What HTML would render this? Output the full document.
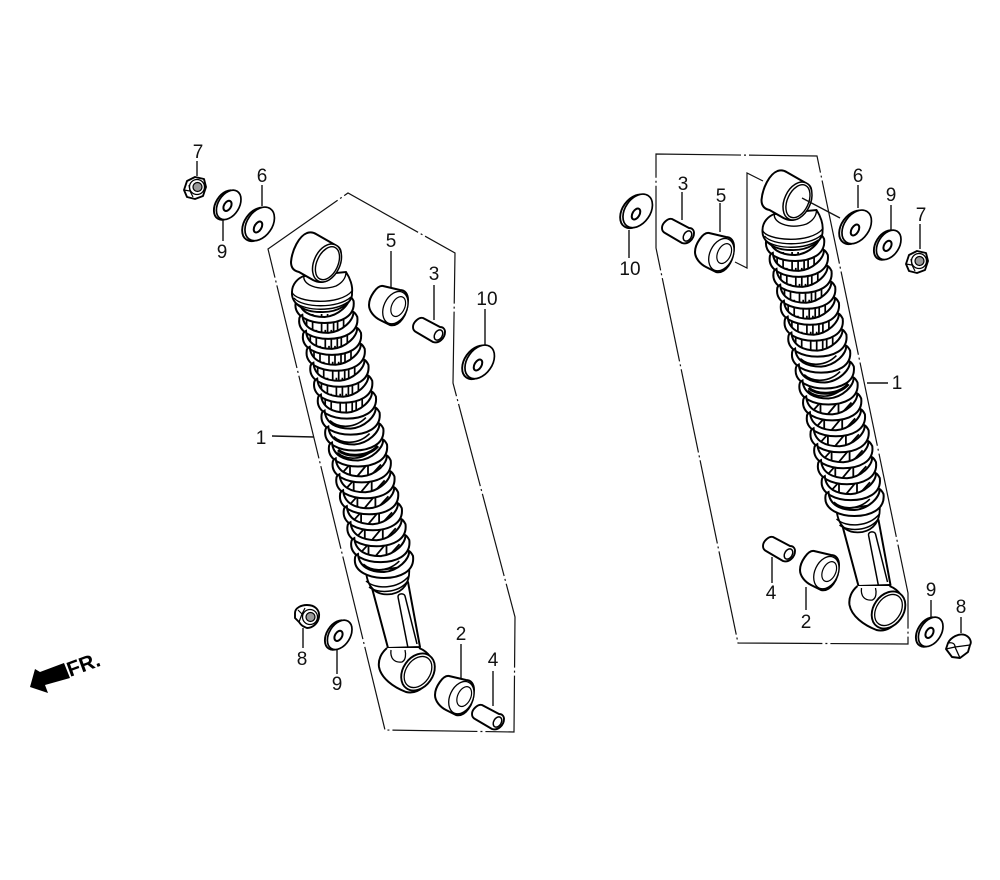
<!DOCTYPE html>
<html><head><meta charset="utf-8"><style>
html,body{margin:0;padding:0;background:#fff}
svg{display:block}
text{font-family:"Liberation Sans",sans-serif;font-size:19px;fill:#111;text-anchor:middle}
</style></head><body>
<svg width="1000" height="880" viewBox="0 0 1000 880" xmlns="http://www.w3.org/2000/svg">
<defs>
<g id="c1">
<path d="M-18,5V26M-12,5V26M-3,5V26M3,5V26M9,5V26M13,5V26M19,4V24" fill="none" stroke="#000" stroke-width="1.7"/>
<path id="band" d="M-29,-6C-31,8 -14,14 0,14C15,14 31,8 29,-8C28,-10 27,-12 25,-13C26,-5 14,7 0,8C-14,8 -25,3 -26,-10C-28,-9 -29,-8 -29,-6Z" fill="#fff" stroke="#000" stroke-width="2"/>
</g>
<g id="c2">
<path d="M-19,24L-9,13M-8,10V26M-1,24L9,12M10,10V26M13,23L23,12" fill="none" stroke="#000" stroke-width="1.8"/>
<use href="#band"/>
</g>
<g id="c3">
<path d="M-17,16C-8,24 8,24 19,13" fill="none" stroke="#000" stroke-width="1.6"/>
<use href="#band"/>
</g>
<g id="washer">
<ellipse cx="-1.5" cy="1.5" rx="12.5" ry="18.5" transform="rotate(35)" fill="#fff" stroke="#000" stroke-width="1.9"/>
<ellipse cx="0.5" cy="-0.5" rx="12.5" ry="18.5" transform="rotate(35)" fill="#fff" stroke="#000" stroke-width="1.7"/>
<ellipse cx="-1" cy="3" rx="3.5" ry="6" transform="rotate(30 -1 3)" fill="#fff" stroke="#000" stroke-width="2"/>
</g>
<g id="washer9">
<ellipse cx="-1.5" cy="1" rx="10.5" ry="16" transform="rotate(32)" fill="#fff" stroke="#000" stroke-width="1.9"/>
<ellipse cx="0.5" cy="-0.5" rx="10.5" ry="16" transform="rotate(32)" fill="#fff" stroke="#000" stroke-width="1.7"/>
<ellipse cx="0" cy="1" rx="3.5" ry="5.5" transform="rotate(30)" fill="#fff" stroke="#000" stroke-width="2"/>
</g>
<g id="bush">
<path d="M-11,-21C-17,-22 -25,-10 -25,-2C-25,4 -20,10 -14,13L-4,18C5,20 14,8 14,-7C14,-13 11,-17 6,-17Z" fill="#fff" stroke="#000" stroke-width="2" stroke-linejoin="round"/>
<ellipse cx="1.5" cy="0" rx="11.5" ry="17" transform="rotate(25)" fill="#fff" stroke="#000" stroke-width="1.3"/>
<ellipse cx="4" cy="-0.5" rx="6.5" ry="10.5" transform="rotate(25 4 0)" fill="#fff" stroke="#000" stroke-width="1.2"/>
</g>
<g id="sleeve">
<path d="M-14,-17C-18,-18 -24,-13 -24,-8C-24,-6 -23,-4 -21,-3L-4,7C2,9 8,3 8,-3C8,-6 6,-8 3,-8Z" fill="#fff" stroke="#000" stroke-width="1.9" stroke-linejoin="round"/>
<ellipse cx="1.5" cy="0" rx="3.8" ry="5.5" transform="rotate(30 1.5 0)" fill="#fff" stroke="#000" stroke-width="1.5"/>
</g>
<g id="nut7">
<path d="M-11,2L-8,-7L0,-11L9,-9L11,-1L8,8L0,11L-8,9Z" fill="#fff" stroke="#000" stroke-width="1.9" stroke-linejoin="round"/>
<circle cx="2" cy="-1" r="7.5" fill="#fff" stroke="#000" stroke-width="1.3"/>
<circle cx="2.5" cy="-1" r="4.5" fill="#999" stroke="#000" stroke-width="1.2"/>
<path d="M-11,2L-5,3L-2,9M-5,3L-6,-3" fill="none" stroke="#000" stroke-width="1.2"/>
</g>
<g id="nut8a">
<path d="M-12,-4C-12,-9 -6,-12 0,-12C8,-12 13,-7 12,0C11,7 5,11 0,11C-5,9 -6,8 -8,5L-12,1Z" fill="#fff" stroke="#000" stroke-width="1.9" stroke-linejoin="round"/>
<circle cx="3" cy="0" r="7.5" fill="#fff" stroke="#000" stroke-width="1.3"/>
<circle cx="3.5" cy="0" r="4.5" fill="#999" stroke="#000" stroke-width="1.2"/>
<path d="M-8,5L-5,-3L-9,-7M-5,-3L-2,-9" fill="none" stroke="#000" stroke-width="1.2"/>
</g>
<g id="nut8b">
<path d="M-13,2L-11,-4C-8,-10 0,-14 6,-12C11,-10 13,-5 11,-2L9,5L1,11L-7,10Z" fill="#fff" stroke="#000" stroke-width="1.9" stroke-linejoin="round"/>
<path d="M-13,2L-4,0L1,11M-4,0L11,-2M-11,-4C-6,-5 -4,-3 -4,0" fill="none" stroke="#000" stroke-width="1.3"/>
</g>
<g id="shock">
<!-- lower end -->
<path d="M372,588L388,648L420,647L408,582Z" fill="#fff" stroke="#000" stroke-width="2" stroke-linejoin="round"/>
<path d="M398,597C398,593 404,593 405,596L417,644M398,597L408,648" fill="none" stroke="#000" stroke-width="1.5"/>
<path d="M387,648C381,653 378,660 379,667C381,678 393,687 406,692C418,695 430,684 433,670C434,660 429,652 419,648" fill="#fff" stroke="#000" stroke-width="2"/>
<path d="M391,650C390,658 394,663 402,662C406,660 406,654 405,650" fill="none" stroke="#000" stroke-width="1.3"/>
<ellipse cx="418" cy="672" rx="15" ry="20" transform="rotate(35 418 672)" fill="#fff" stroke="#000" stroke-width="1.9"/>
<ellipse cx="418" cy="672" rx="12" ry="17" transform="rotate(35 418 672)" fill="#fff" stroke="#000" stroke-width="1.3"/>
<!-- collar above rod -->
<path d="M366,572C368,590 378,596 392,594C402,592 411,584 409,566Z" fill="#fff" stroke="#000" stroke-width="1.8"/>
<path d="M366,581C376,590 398,589 409,576M369,587C378,594 398,593 407,582" fill="none" stroke="#000" stroke-width="1.5"/>
<!-- coils -->
<use href="#c1" x="324.6" y="309"/>
<use href="#c1" x="328.3" y="324.9"/>
<use href="#c1" x="332" y="340.9"/>
<use href="#c1" x="335.7" y="356.8"/>
<use href="#c1" x="339.4" y="372.8"/>
<use href="#c1" x="343.2" y="388.7"/>
<use href="#c3" x="346.9" y="404.6"/>
<use href="#c3" x="350.6" y="420.6"/>
<use href="#c3" x="354.3" y="436.5"/>
<path d="M338,450C348,458 368,457 378,446" fill="none" stroke="#000" stroke-width="3"/>
<use href="#c2" x="358" y="452.5"/>
<use href="#c2" x="361.7" y="468.4"/>
<use href="#c2" x="365.4" y="484.3"/>
<use href="#c2" x="369.1" y="500.3"/>
<use href="#c2" x="372.8" y="516.2"/>
<use href="#c2" x="376.5" y="532.2"/>
<use href="#c3" x="380.3" y="548.1"/>
<use href="#band" x="384" y="564"/>
<!-- top cap -->
<path d="M292,292C292,284 298,278 304,276L346,272C350,278 353,286 352,293C353,303 338,313 320,312C303,312 291,303 292,292Z" fill="#fff" stroke="#000" stroke-width="1.9"/>
<path d="M292,292C295,303 340,306 352,291M294,298C302,308 338,309 351,297M296,303C306,311 334,312 348,302" fill="none" stroke="#000" stroke-width="1.4"/>
<path d="M304,276C302,284 318,292 336,286C342,283 346,278 346,272" fill="none" stroke="#000" stroke-width="1.4"/>
<!-- eye -->
<path d="M307,233C299,236 292,250 291,262C291,268 294,271 299,272L313,280C326,287 340,275 341,255C341,250 340,248 337,246L316,234C313,232 310,232 307,233Z" fill="#fff" stroke="#000" stroke-width="2" stroke-linejoin="round"/>
<ellipse cx="327" cy="263" rx="13" ry="20" transform="rotate(25 327 263)" fill="#fff" stroke="#000" stroke-width="1.5"/>
<ellipse cx="327.5" cy="263" rx="10.5" ry="17.5" transform="rotate(25 327 263)" fill="#fff" stroke="#000" stroke-width="1.4"/>
</g>
</defs>
<rect width="1000" height="880" fill="#fff"/>

<!-- phantom outlines -->
<g fill="none" stroke="#111" stroke-width="1.2" stroke-dasharray="85 3 2 3">
<path d="M268,249L348,193L455,253L453,383L515,617L514,732L385,730Z"/>
<path d="M656,154L817,156L908,593L908,644L738,643L656,248Z"/>
<path d="M763,181L747,173V268L735,262" stroke-dasharray="none"/>
</g>

<use href="#shock"/>
<use href="#shock" transform="translate(470.5,-62)"/>
<path d="M802,198L840,218" stroke="#111" stroke-width="1.3"/>

<!-- leaders -->
<g stroke="#111" stroke-width="1.4" fill="none">
<path d="M197,161V176M262,185V206M223,220V241M391,251V287M434,285V320M485,309V345M272,436L314,437"/>
<path d="M303,628V648M337,650V674M461,644V680M493,671V706"/>
<path d="M682,192V220M720,203V232M858,185V208M891,205V230M920,224V249M629,230V258M867,383H888"/>
<path d="M772,557V583M806,587V610M931,600V617M961,617V633"/>
</g>

<!-- parts left -->
<use href="#nut7" x="195" y="188"/>
<use href="#washer9" x="228" y="205"/>
<use href="#washer" x="259" y="224"/>
<use href="#bush" x="394" y="307"/>
<use href="#sleeve" x="437" y="335"/>
<use href="#washer" x="479" y="362"/>
<use href="#nut8a" x="307" y="617"/>
<use href="#washer9" x="339" y="635"/>
<use href="#bush" x="460" y="697"/>
<use href="#sleeve" x="496" y="722"/>

<!-- parts right -->
<use href="#washer" x="637" y="211"/>
<use href="#sleeve" x="686" y="236"/>
<use href="#bush" x="720" y="254"/>
<use href="#washer" x="856" y="227"/>
<use href="#washer9" x="888" y="245"/>
<use href="#nut7" x="917" y="262"/>
<use href="#sleeve" x="787" y="554"/>
<use href="#bush" x="825" y="572"/>
<use href="#washer9" x="930" y="632"/>
<use href="#nut8b" x="959" y="647"/>

<!-- labels -->
<text x="198" y="158">7</text>
<text x="262" y="182">6</text>
<text x="222" y="258">9</text>
<text x="391" y="247">5</text>
<text x="434" y="280">3</text>
<text x="487" y="305">10</text>
<text x="261" y="444">1</text>
<text x="302" y="665">8</text>
<text x="337" y="690">9</text>
<text x="461" y="640">2</text>
<text x="493" y="666">4</text>
<text x="683" y="190">3</text>
<text x="721" y="202">5</text>
<text x="858" y="182">6</text>
<text x="891" y="201">9</text>
<text x="921" y="221">7</text>
<text x="630" y="275">10</text>
<text x="897" y="389">1</text>
<text x="771" y="599">4</text>
<text x="806" y="628">2</text>
<text x="931" y="596">9</text>
<text x="961" y="613">8</text>

<!-- FR arrow -->
<polygon points="30,687 35,669 40,672 64,663 70,678 45,685 48,693" fill="#000"/>
<text transform="translate(70,677) rotate(-20)" x="0" y="0" style="font-size:21px;font-weight:bold;text-anchor:start;fill:#000">FR.</text>
</svg>
</body></html>
